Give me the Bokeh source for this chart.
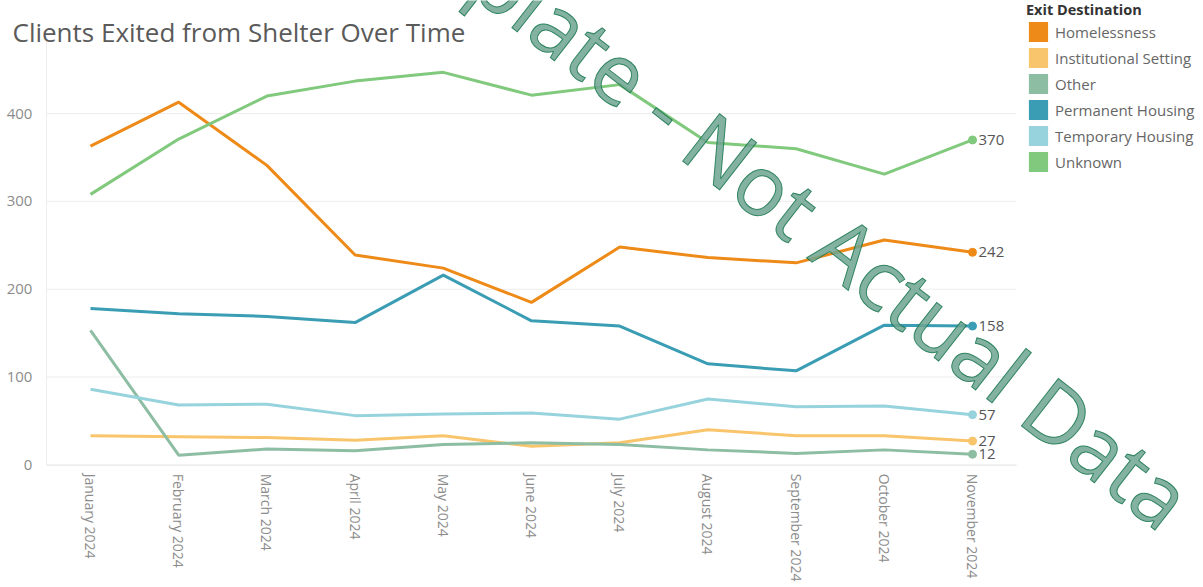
from bokeh.plotting import figure
from bokeh.models import Range1d, Legend, LegendItem, Label, ColumnDataSource, FixedTicker
from bokeh.core.properties import value
from bokeh.embed import file_html
from bokeh.resources import INLINE

months = ["January 2024", "February 2024", "March 2024", "April 2024", "May 2024",
          "June 2024", "July 2024", "August 2024", "September 2024", "October 2024",
          "November 2024"]

series_names = ["Homelessness", "Institutional Setting", "Other",
                "Permanent Housing", "Temporary Housing", "Unknown"]
homelessness = [363, 413, 341, 239, 224, 185, 248, 236, 230, 256, 242]
institutional = [33, 32, 31, 28, 33, 21, 25, 40, 33, 33, 27]
other = [153, 11, 18, 16, 23, 25, 23, 17, 13, 17, 12]
permanent = [178, 172, 169, 162, 216, 164, 158, 115, 107, 159, 158]
temporary = [86, 68, 69, 56, 58, 59, 52, 75, 66, 67, 57]
unknown = [308, 371, 420, 437, 447, 421, 433, 367, 360, 331, 370]
series_values = [homelessness, institutional, other, permanent, temporary, unknown]
colors = ["#EE8A17", "#F8C56C", "#8DBDA2", "#3A9DB4", "#97D3DD", "#81C97C"]
y_ticks = [0, 100, 200, 300, 400]

FONT = "Open Sans"
W, H = 1203, 587

# layout of the plotting area inside the canvas (pixels)
X0_PX, DX_PX = 90.0, 88.2          # first category centre, category spacing
Y0_PX, DY_PX = 464.3, 0.878        # pixel row of value 0, pixels per unit
Y_TOP = 483                        # top of the value axis

x_idx = list(range(len(months)))
x_range = Range1d(-X0_PX / DX_PX, (W - X0_PX) / DX_PX)
y_range = Range1d((Y0_PX - H) / DY_PX, Y0_PX / DY_PX)

p = figure(x_range=x_range, y_range=y_range, width=W, height=H,
           output_backend="svg", toolbar_location=None,
           min_border_left=0, min_border_right=0, min_border_top=0,
           min_border_bottom=0)
p.outline_line_color = None
p.background_fill_color = "white"
p.border_fill_color = "white"
p.xgrid.grid_line_color = None
p.ygrid.grid_line_color = None

x_lo, x_hi = x_idx[0] - 0.5, x_idx[-1] + 0.5

# horizontal gridlines across the plotting area
p.segment(x0=[x_lo] * len(y_ticks), x1=[x_hi] * len(y_ticks), y0=y_ticks, y1=y_ticks,
          line_color="#ededed", line_width=1)

p.yaxis.fixed_location = x_lo
p.yaxis.bounds = (-1, Y_TOP)
p.yaxis.ticker = FixedTicker(ticks=y_ticks)
p.yaxis.axis_line_color = "#eeeeee"
p.yaxis.major_tick_line_color = None
p.yaxis.minor_tick_line_color = None
p.yaxis.major_label_standoff = 8
p.yaxis.major_label_text_font = FONT
p.yaxis.major_label_text_font_size = "15px"
p.yaxis.major_label_text_color = "#8c8c8c"

p.xaxis.fixed_location = -1
p.xaxis.bounds = (x_lo, x_hi)
p.xaxis.ticker = FixedTicker(ticks=x_idx)
p.xaxis.major_label_overrides = {i: m for i, m in zip(x_idx, months)}
p.xaxis.axis_line_color = "#eeeeee"
p.xaxis.major_tick_line_color = None
p.xaxis.minor_tick_line_color = None
p.xaxis.major_label_orientation = "vertical"
p.xaxis.major_label_standoff = 2
p.xaxis.major_label_text_font = FONT
p.xaxis.major_label_text_font_size = "14px"
p.xaxis.major_label_text_color = "#8c8c8c"

legend_items = []
for name, vals, col in zip(series_names, series_values, colors):
    p.line(x_idx, vals, line_color=col, line_width=3)
    # zero-area swatch renderer at the last point, only used for the legend square
    swatch = p.quad(left=[x_idx[-1]], right=[x_idx[-1]], top=[vals[-1]], bottom=[vals[-1]],
                    fill_color=col, line_color=None)
    legend_items.append(LegendItem(label=name, renderers=[swatch]))

last_vals = [v[-1] for v in series_values]
end_src = ColumnDataSource(dict(x=[x_idx[-1]] * len(last_vals), y=last_vals,
                                c=colors, t=[str(v) for v in last_vals]))
p.scatter("x", "y", source=end_src, size=8, fill_color="c", line_color="c")
p.text("x", "y", text="t", source=end_src, x_offset=6, text_baseline="middle",
       text_font=value(FONT), text_font_size="15px", text_color="#555555")

legend = Legend(items=legend_items, location=(1026, H - 174), title="Exit Destination",
                title_text_font=FONT, title_text_font_style="bold",
                title_text_font_size="14.5px", title_text_color="#333333",
                title_standoff=0,
                label_text_font=FONT, label_text_font_size="15px",
                label_text_color="#666666", glyph_width=24, glyph_height=25,
                spacing=1, label_standoff=5, padding=0, margin=0,
                border_line_color=None, background_fill_alpha=0)
p.add_layout(legend, "center")

title = Label(x=12, y=H - 31, x_units="screen", y_units="screen",
              text="Clients Exited from Shelter Over Time", text_font=FONT,
              text_font_size="26px", text_color="#5a5a5a", text_baseline="alphabetic")
p.add_layout(title)

watermark = Label(x=765, y=H - 184, x_units="screen", y_units="screen",
                  text="Template - Not Actual Data", text_font=FONT,
                  text_font_size="84px", text_color="#6ea592", text_alpha=0.85,
                  text_outline_color="#17774d",
                  text_align="center", text_baseline="middle",
                  angle=-38, angle_units="deg")
p.add_layout(watermark)

open("out.html", "w").write(file_html(p, INLINE))
